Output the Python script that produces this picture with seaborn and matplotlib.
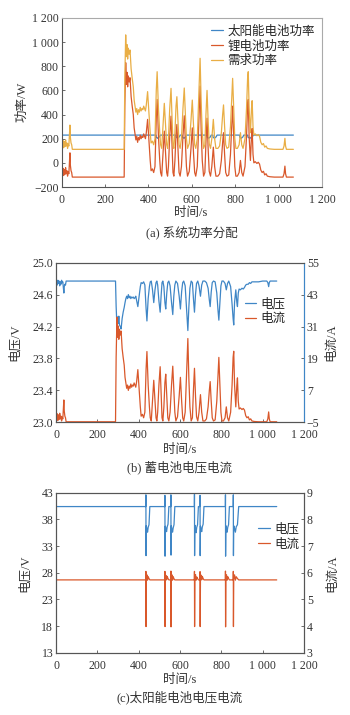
import matplotlib
matplotlib.use("Agg")
import matplotlib.pyplot as plt
import seaborn as sns
import numpy as np
import pandas as pd

sns.set_style("ticks")
plt.rcParams['font.family'] = ['Liberation Serif', 'Noto Sans CJK SC', 'DejaVu Sans']
plt.rcParams['axes.unicode_minus'] = True

# ---------------- data: panels (a) and (b) share one time base ----------------
time_s = [0, 3, 6, 9, 12, 15, 18, 21, 24, 27, 30, 33, 36, 38, 40, 43, 46, 49,
          288, 291, 295, 298, 301, 304, 307, 311, 315, 320, 325, 330, 334, 338,
          342, 346, 350, 354, 358, 362, 366, 370, 374, 378, 382, 386, 390, 396,
          402, 408, 412, 418, 424, 430, 436, 440, 446, 452, 456, 461, 467, 473,
          479, 484, 488, 492, 498, 504, 509, 513, 517, 522, 527, 531, 536, 541,
          546, 552, 559, 565, 570, 575, 580, 588, 596, 602, 608, 613, 618, 625,
          632, 638, 643, 648, 654, 660, 665, 670, 675, 680, 686, 692, 699, 705,
          711, 720, 728, 736, 742, 746, 751, 756, 762, 770, 778, 784, 788, 793,
          798, 803, 810, 818, 824, 830, 836, 845, 852, 857, 860, 864, 870, 875,
          878, 882, 886, 892, 900, 906, 912, 918, 924, 930, 936, 942, 948, 960,
          980, 1000, 1020, 1025, 1029, 1032, 1036, 1068]

demand_w = [225, 150, 185, 125, 175, 135, 190, 140, 165, 120, 155, 140, 240, 313, 210, 165, 150, 112,
            112, 700, 1060, 880, 980, 860, 950, 900, 935, 780, 700, 630, 520, 470,
            420, 450, 400, 440, 420, 460, 430, 450, 440, 470, 450, 430, 480, 590,
            420, 250, 165, 180, 150, 200, 600, 755, 450, 250, 150, 120, 300, 493,
            300, 150, 120, 200, 450, 617, 350, 150, 120, 250, 470, 548, 350, 150,
            120, 200, 450, 620, 400, 200, 120, 160, 350, 520, 300, 150, 120, 200,
            550, 866, 500, 250, 120, 150, 400, 600, 350, 160, 120, 200, 360, 200,
            120, 120, 140, 250, 400, 480, 300, 150, 120, 130, 300, 550, 700, 450,
            200, 120, 120, 150, 250, 150, 120, 200, 450, 700, 755, 450, 250, 450,
            515, 300, 230, 240, 225, 235, 220, 170, 150, 160, 130, 140, 120, 115,
            112, 112, 112, 140, 203, 140, 112, 112]

li_w = [-5, -80, -45, -105, -55, -95, -40, -90, -65, -110, -75, -90, 10, 83, -20, -65, -80, -118,
        -118, 470, 830, 650, 750, 630, 720, 670, 705, 550, 470, 400, 290, 240,
        190, 220, 170, 210, 190, 230, 200, 220, 210, 240, 220, 200, 250, 360,
        190, 20, -65, -50, -80, -30, 370, 525, 220, 20, -80, -110, 70, 263,
        70, -80, -110, -30, 220, 387, 120, -80, -110, 20, 240, 318, 120, -80,
        -110, -30, 220, 390, 170, -30, -110, -70, 120, 290, 70, -80, -110, -30,
        320, 636, 270, 20, -110, -80, 170, 370, 120, -70, -110, -30, 130, -30,
        -110, -110, -90, 20, 170, 250, 70, -80, -110, -100, 70, 320, 470, 220,
        -30, -110, -110, -80, 20, -80, -110, -30, 220, 470, 525, 220, 20, 220,
        285, 70, 0, 10, -5, 5, -10, -60, -80, -70, -100, -90, -110, -115,
        -118, -118, -118, -90, -27, -90, -118, -118]

batt_i = [-0.2, -3.3, -1.8, -4.3, -2.2, -3.9, -1.6, -3.7, -2.7, -4.5, -3.1, -3.7, 0.4, 3.4, -0.8, -2.7, -3.3, -4.8,
          -4.8, 19.5, 34.5, 27.0, 31.2, 26.2, 30.0, 27.8, 29.3, 22.7, 19.4, 16.5, 11.9, 9.8,
          7.8, 9.0, 7.0, 8.6, 7.8, 9.4, 8.2, 9.0, 8.6, 9.8, 9.0, 8.2, 10.2, 14.8,
          7.8, 0.8, -2.7, -2.0, -3.3, -1.2, 15.2, 21.6, 9.0, 0.8, -3.3, -4.5, 2.9, 10.8,
          2.9, -3.3, -4.5, -1.2, 9.0, 15.9, 4.9, -3.3, -4.5, 0.8, 9.9, 13.1, 4.9, -3.3,
          -4.5, -1.2, 9.0, 16.1, 7.0, -1.2, -4.5, -2.9, 4.9, 11.9, 2.9, -3.3, -4.5, -1.2,
          13.2, 26.5, 11.1, 0.8, -4.5, -3.3, 7.0, 15.3, 4.9, -2.9, -4.5, -1.2, 5.4, -1.2,
          -4.5, -4.5, -3.7, 0.8, 7.0, 10.3, 2.9, -3.3, -4.5, -4.1, 2.9, 13.2, 19.4, 9.0,
          -1.2, -4.5, -4.5, -3.3, 0.8, -3.3, -4.5, -1.2, 9.0, 19.4, 21.7, 9.0, 0.8, 9.0,
          11.7, 2.9, 0.0, 0.4, -0.2, 0.2, -0.4, -2.5, -3.3, -2.9, -4.1, -3.7, -4.5, -4.7,
          -4.8, -4.8, -4.8, -3.7, -1.1, -3.7, -4.8, -4.8]

batt_v = [24.74, 24.77, 24.72, 24.78, 24.74, 24.77, 24.71, 24.76, 24.73, 24.78, 24.75, 24.76, 24.68, 24.62, 24.70, 24.73, 24.72, 24.77,
          24.77, 24.45, 24.20, 24.32, 24.24, 24.33, 24.22, 24.20, 24.17, 24.30, 24.38, 24.44, 24.50, 24.55,
          24.58, 24.55, 24.60, 24.56, 24.58, 24.55, 24.57, 24.56, 24.57, 24.55, 24.56, 24.58, 24.53, 24.45,
          24.58, 24.70, 24.75, 24.74, 24.76, 24.72, 24.42, 24.27, 24.55, 24.70, 24.76, 24.77, 24.66, 24.50,
          24.66, 24.75, 24.77, 24.72, 24.52, 24.38, 24.60, 24.75, 24.77, 24.70, 24.50, 24.42, 24.62, 24.75,
          24.77, 24.71, 24.50, 24.35, 24.58, 24.72, 24.77, 24.74, 24.58, 24.42, 24.64, 24.75, 24.77, 24.71,
          24.40, 24.15, 24.45, 24.68, 24.77, 24.75, 24.55, 24.38, 24.60, 24.74, 24.77, 24.71, 24.58, 24.72,
          24.77, 24.77, 24.75, 24.68, 24.53, 24.45, 24.63, 24.75, 24.77, 24.76, 24.62, 24.40, 24.28, 24.50,
          24.71, 24.77, 24.77, 24.74, 24.66, 24.74, 24.77, 24.70, 24.48, 24.30, 24.22, 24.50, 24.66, 24.50,
          24.45, 24.62, 24.67, 24.66, 24.68, 24.67, 24.69, 24.72, 24.73, 24.73, 24.75, 24.74, 24.76, 24.76,
          24.76, 24.77, 24.77, 24.75, 24.70, 24.75, 24.77, 24.77]

# ---------------- data: solar cell (panel c) and solar power (panel a) ----------------
time_pv = [0, 0.5, 1,
           434.5, 435, 435.6, 437, 440, 443, 446, 450, 454,
           526.5, 527, 527.6, 529, 532, 535, 538, 542, 546,
           555.5, 556, 556.6, 558, 561, 564, 567, 571, 575,
           669.5, 670, 670.6, 672, 675, 678, 681, 685, 689,
           696.5, 697, 697.6, 699, 702, 705, 708, 712, 716,
           819.5, 820, 820.6, 822, 825, 828, 831, 835, 839,
           857.5, 858, 858.6, 860, 864, 868, 872, 878, 884,
           1068]

pv_v = [40.4, 40.4, 40.4,
        40.4, 42.6, 31.2, 36.8, 36.2, 35.6, 36.5, 37.0, 40.4,
        40.4, 42.5, 31.1, 36.7, 36.3, 35.7, 36.6, 37.1, 40.4,
        40.4, 42.6, 31.3, 36.8, 36.1, 35.6, 36.4, 37.0, 40.4,
        40.4, 42.7, 31.2, 36.9, 36.3, 35.5, 36.5, 37.0, 40.4,
        40.4, 42.5, 31.2, 36.7, 36.2, 35.7, 36.6, 37.1, 40.4,
        40.4, 42.6, 31.1, 36.8, 36.2, 35.6, 36.5, 37.0, 40.4,
        40.4, 42.6, 31.2, 36.8, 36.3, 35.6, 36.6, 37.0, 40.4,
        40.4]

pv_i = [6.5, 3.0, 5.73,
        5.73, 6.05, 3.98, 5.75, 5.92, 5.72, 5.85, 5.78, 5.73,
        5.73, 6.05, 3.98, 5.74, 5.90, 5.73, 5.86, 5.78, 5.73,
        5.73, 6.06, 3.97, 5.75, 5.92, 5.72, 5.85, 5.77, 5.73,
        5.73, 6.05, 3.98, 5.76, 5.93, 5.72, 5.84, 5.78, 5.73,
        5.73, 6.04, 3.98, 5.75, 5.91, 5.73, 5.86, 5.78, 5.73,
        5.73, 6.06, 3.97, 5.75, 5.92, 5.72, 5.85, 5.78, 5.73,
        5.73, 6.05, 3.98, 5.75, 5.92, 5.72, 5.85, 5.78, 5.73,
        5.73]

solar_w = [230, 230, 230,
           230, 230, 214, 210, 207, 203, 209, 214, 230,
           230, 230, 214, 211, 208, 204, 210, 215, 230,
           230, 230, 214, 210, 207, 203, 209, 214, 230,
           230, 230, 215, 211, 208, 203, 210, 214, 230,
           230, 230, 214, 210, 207, 204, 210, 215, 230,
           230, 230, 214, 210, 207, 203, 209, 214, 230,
           230, 230, 214, 210, 208, 203, 210, 214, 230,
           230]

# ---------------- axis ticks / labels ----------------
x_ticks = [0, 200, 400, 600, 800, 1000, 1200]
x_ticklabels = ["0", "200", "400", "600", "800", "1 000", "1 200"]
a_yticks = [-200, 0, 200, 400, 600, 800, 1000, 1200]
a_yticklabels = ["\u2212200", "0", "200", "400", "600", "800", "1 000", "1 200"]
b_yticks = [23.0, 23.4, 23.8, 24.2, 24.6, 25.0]
b_rticks = [-5, 7, 19, 31, 43, 55]
c_yticks = [13, 18, 23, 28, 33, 38, 43]
c_rticks = [3, 4, 5, 6, 7, 8, 9]

BLUE = "#3f86c6"
RED = "#d9582b"
YEL = "#e9ae45"
SPINE = "#555555"
TXT = "#333333"
LW = 0.9
FS_T = 8.5
FS_C = 9

fig = plt.figure(figsize=(3.5, 7.15), dpi=100)
fig.patch.set_facecolor("white")


def style_ax(ax, right_color=SPINE, top_color=SPINE):
    for s in ["left", "bottom"]:
        ax.spines[s].set_color(SPINE)
        ax.spines[s].set_linewidth(0.8)
    ax.spines["top"].set_visible(True)
    ax.spines["right"].set_visible(True)
    ax.spines["top"].set_color(top_color)
    ax.spines["right"].set_color(right_color)
    ax.spines["top"].set_linewidth(0.8)
    ax.spines["right"].set_linewidth(0.8)
    ax.tick_params(direction="in", length=2.5, width=0.6, colors=SPINE,
                   labelcolor=TXT, labelsize=FS_T, pad=2)
    ax.tick_params(axis="x", pad=5)
    ax.set_xlabel("")
    ax.set_ylabel("")


LEG = dict(frameon=False, fontsize=FS_C, handlelength=0.95, handletextpad=0.35,
           labelspacing=0.2, borderaxespad=0.2, borderpad=0.2)

# ---------------- panel (a) ----------------
ax_a = fig.add_axes([61.7 / 350, 1 - 187 / 715, 260.3 / 350, 169 / 715])
df_a = pd.DataFrame({"t": time_s, "li": li_w, "dem": demand_w})
df_pv = pd.DataFrame({"t": time_pv, "pv_w": solar_w, "v": pv_v, "i": pv_i})
sns.lineplot(data=df_pv, x="t", y="pv_w", ax=ax_a, color=BLUE, lw=LW,
             estimator=None, label="太阳能电池功率")
sns.lineplot(data=df_a, x="t", y="li", ax=ax_a, color=RED, lw=LW,
             estimator=None, label="锂电池功率")
sns.lineplot(data=df_a, x="t", y="dem", ax=ax_a, color=YEL, lw=LW,
             estimator=None, label="需求功率")
ax_a.set_xlim(0, 1200)
ax_a.set_ylim(-200, 1200)
ax_a.set_xticks(x_ticks)
ax_a.set_xticklabels(x_ticklabels)
ax_a.set_yticks(a_yticks)
ax_a.set_yticklabels(a_yticklabels)
style_ax(ax_a, right_color="#aaaaaa", top_color="#aaaaaa")
ax_a.legend(loc="upper left", bbox_to_anchor=(0.555, 0.985), **LEG)
fig.text(0.545, 1 - 213 / 715, "时间/s", ha="center", va="center", fontsize=FS_C, color=TXT)
fig.text(0.063, 1 - 102 / 715, "功率/W", ha="center", va="center", rotation=90, fontsize=FS_C, color=TXT)
fig.text(0.549, 1 - 232 / 715, "(a) 系统功率分配", ha="center", va="center", fontsize=FS_C, color=TXT)

# ---------------- panel (b) ----------------
ax_b = fig.add_axes([56 / 350, 1 - 422.3 / 715, 248 / 350, 159.6 / 715])
df_b = pd.DataFrame({"t": time_s, "v": batt_v, "i": batt_i})
sns.lineplot(data=df_b, x="t", y="v", ax=ax_b, color=BLUE, lw=LW, estimator=None,
             legend=False)
ax_b.set_xlim(0, 1200)
ax_b.set_ylim(23.0, 25.0)
ax_b.set_xticks(x_ticks)
ax_b.set_xticklabels(x_ticklabels)
ax_b.set_yticks(b_yticks)
ax_b.set_yticklabels([f"{v:.1f}" for v in b_yticks])
ax_b2 = ax_b.twinx()
sns.lineplot(data=df_b, x="t", y="i", ax=ax_b2, color=RED, lw=LW, estimator=None,
             legend=False)
ax_b2.set_ylim(-5, 55)
ax_b2.set_yticks(b_rticks)
ax_b2.set_yticklabels(["\u22125" if v < 0 else str(v) for v in b_rticks])
style_ax(ax_b, right_color=BLUE)
style_ax(ax_b2, right_color=BLUE)
h_b = [ax_b.get_lines()[0], ax_b2.get_lines()[0]]
ax_b2.legend(h_b, ["电压", "电流"], loc="upper left", bbox_to_anchor=(0.74, 0.81), **LEG)
fig.text(0.514, 1 - 450 / 715, "时间/s", ha="center", va="center", fontsize=FS_C, color=TXT)
fig.text(0.514, 1 - 467 / 715, "(b) 蓄电池电压电流", ha="center", va="center", fontsize=FS_C, color=TXT)
fig.text(0.043, 1 - 342 / 715, "电压/V", ha="center", va="center", rotation=90, fontsize=FS_C, color=TXT)
fig.text(0.945, 1 - 342 / 715, "电流/A", ha="center", va="center", rotation=90, fontsize=FS_C, color=TXT)

# ---------------- panel (c) ----------------
ax_c = fig.add_axes([56 / 350, 1 - 652.7 / 715, 248 / 350, 160 / 715])
sns.lineplot(data=df_pv, x="t", y="v", ax=ax_c, color=BLUE, lw=LW, estimator=None,
             legend=False)
ax_c.set_xlim(0, 1200)
ax_c.set_ylim(13, 43)
ax_c.set_xticks(x_ticks)
ax_c.set_xticklabels(x_ticklabels)
ax_c.set_yticks(c_yticks)
ax_c2 = ax_c.twinx()
sns.lineplot(data=df_pv, x="t", y="i", ax=ax_c2, color=RED, lw=LW, estimator=None,
             legend=False)
ax_c2.set_ylim(3, 9)
ax_c2.set_yticks(c_rticks)
style_ax(ax_c)
style_ax(ax_c2)
h_c = [ax_c.get_lines()[0], ax_c2.get_lines()[0]]
ax_c2.legend(h_c, ["电压", "电流"], loc="upper left", bbox_to_anchor=(0.795, 0.84), **LEG)
fig.text(0.514, 1 - 680 / 715, "时间/s", ha="center", va="center", fontsize=FS_C, color=TXT)
fig.text(0.514, 1 - 697 / 715, "(c)太阳能电池电压电流", ha="center", va="center", fontsize=FS_C, color=TXT)
fig.text(0.071, 1 - 573 / 715, "电压/V", ha="center", va="center", rotation=90, fontsize=FS_C, color=TXT)
fig.text(0.948, 1 - 573 / 715, "电流/A", ha="center", va="center", rotation=90, fontsize=FS_C, color=TXT)

fig.savefig("out.png", dpi=100, facecolor="white")
